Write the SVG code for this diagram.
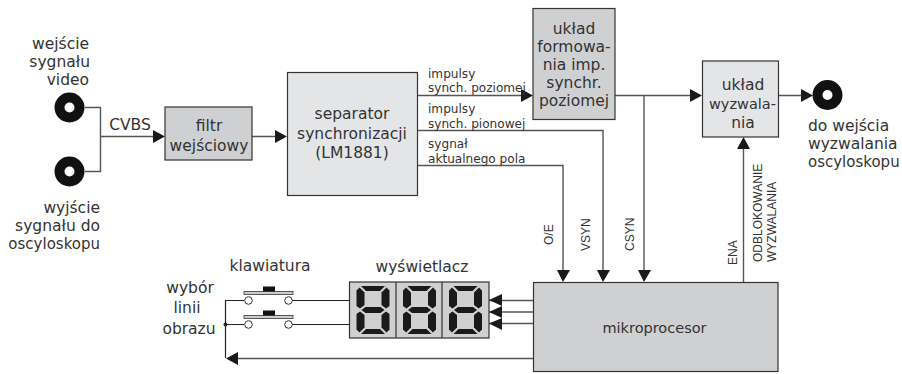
<svg xmlns="http://www.w3.org/2000/svg" width="902" height="374" viewBox="0 0 902 374">
<style>
text{font-family:"DejaVu Sans",Verdana,sans-serif;fill:#333;font-size:15.500px;text-anchor:middle}
.e{text-anchor:end}.t{text-anchor:start}
.m{font-size:15px}.n{font-size:14.500px}
.s{font-size:12.100px;text-anchor:start}
.v{font-family:"Liberation Sans",Arial,sans-serif;font-size:12px;text-anchor:start}
.b{stroke:#333;stroke-width:1.2}
.d{fill:#cfd0d2}.l{fill:#e4e5e6}
.w{fill:none;stroke:#555;stroke-width:1.4}
.k{fill:none;stroke:#222;stroke-width:1.2}
.seg{fill:#1a1a1a}
.jack{fill:#fff;stroke:#111;stroke-width:10}
.pin{fill:#fff;stroke:#333;stroke-width:1}
</style>
<defs>
<g id="digit">
<path class="seg" d="M5 0H29L24 5H10Z"/><path class="seg" d="M3.500 1.500L8.500 6.500V19L4 22.500L0.500 20V4.500Z"/><path class="seg" d="M30.500 1.500L25.500 6.500V19L30 22.500L33.500 20V4.500Z"/>
<path class="seg" d="M5.500 24L9.500 21H24.500L28.500 24L24.500 27H9.500Z"/>
<path class="seg" d="M4 25.500L8.500 29V41.500L3.500 46.500L0.500 43.500V28Z"/><path class="seg" d="M30 25.500L25.500 29V41.500L30.500 46.500L33.500 43.500V28Z"/>
<path class="seg" d="M5 48L10 43H24L29 48Z"/>
</g>
<g id="key"><rect x="-24.500" y="0" width="49" height="3" fill="#ccc" stroke="#333" stroke-width="0.800"/><rect x="-5.500" y="-5" width="12" height="5" fill="#111"/><circle class="pin" cx="-20" cy="9" r="3.800"/><circle class="pin" cx="20" cy="9" r="3.800"/></g>
</defs>
<g id="connectors">
<path class="w" d="M85 107.500H100.500V171.500H85M100.500 136.500H155M252 136.500H276M417 95.500H523M417 130.500H603V272M417 165.500H563V272M615 95.500H692M644 95.500V272M778 95.500H806M743.500 282V147"/>
<path class="w" d="M489 300.500H533M489 312H533M489 323.500H533M238 358.500H533"/>
<path class="k" d="M244 300.500H225.500V358M225.500 324.500H244M292 300.500H349M292 324.500H349"/>
<circle cx="225.500" cy="324.500" r="2" fill="#222"/>
<path fill="#1a1a1a" d="M165 136.500L153 130V143ZM287 136.500L275 130V143ZM533 95.500L521 89V102ZM702 95.500L690 89V102ZM813 95.500L801 89V102ZM743.500 137L737 149H750ZM563 282L557 270H570ZM603 282L597 270H610ZM644 282L638 270H651ZM489 300L502 294V306ZM489 312L502 306V318ZM489 323.500L502 318V330ZM226 358.500L238 352V365Z"/>
</g>
<g id="jack-in"><circle class="jack" cx="69.500" cy="107.500" r="10"/></g>
<g id="jack-out"><circle class="jack" cx="69.500" cy="171.500" r="10"/></g>
<g id="jack-trig"><circle class="jack" cx="827.500" cy="95" r="10"/></g>
<g id="labels-left">
<text class="e" x="89" y="49">wejście</text><text class="e" x="90" y="67">sygnału</text><text class="e" x="89" y="85">video</text>
<text class="e" x="100" y="213">wyjście</text><text class="e" x="100" y="231">sygnału do</text><text class="e m" x="100" y="249">oscyloskopu</text>
<text x="130" y="130">CVBS</text>
</g>
<g id="filtr"><rect class="b d" x="165" y="107" width="87" height="53"/><text x="209" y="131">filtr</text><text x="209" y="151">wejściowy</text></g>
<g id="separator"><rect class="b l" x="287.500" y="72.500" width="130" height="123"/><text x="352" y="119">separator</text><text x="352" y="139">synchronizacji</text><text x="352" y="158">(LM1881)</text></g>
<g id="formowanie"><rect class="b d" x="533" y="8.500" width="82" height="111"/><text x="574" y="34">układ</text><text x="574" y="52">formowa-</text><text x="574" y="70">nia imp.</text><text x="574" y="88">synchr.</text><text x="574" y="106">poziomej</text></g>
<g id="wyzwalanie"><rect class="b l" x="702.500" y="61" width="76" height="76"/><text x="743" y="90">układ</text><text class="n" x="742.500" y="109">wyzwala-</text><text x="743" y="128">nia</text></g>
<g id="signal-labels">
<text class="s" x="428" y="78">impulsy</text><text class="s" x="428" y="92">synch. poziomej</text>
<text class="s" x="428" y="113">impulsy</text><text class="s" x="428" y="128">synch. pionowej</text>
<text class="s" x="428" y="148">sygnał</text><text class="s" x="428" y="163">aktualnego pola</text>
<text class="v" transform="translate(553 245) rotate(-90)">O/E</text>
<text class="v" transform="translate(590 251) rotate(-90)">VSYN</text>
<text class="v" transform="translate(634 251) rotate(-90)">CSYN</text>
<text class="v" transform="translate(737 265) rotate(-90)">ENA</text>
<text class="v" transform="translate(762 262) rotate(-90)">ODBLOKOWANIE</text>
<text class="v" transform="translate(776 262) rotate(-90)">WYZWALANIA</text>
</g>
<g id="wyjscie-label"><text class="t" x="808" y="131">do wejścia</text><text class="t" x="808" y="149">wyzwalania</text><text class="t m" x="808" y="167">oscyloskopu</text></g>
<g id="klawiatura"><text x="270" y="271">klawiatura</text><text x="190" y="293">wybór</text><text x="187" y="313">linii</text><text x="189" y="334">obrazu</text>
<use href="#key" x="268.500" y="291.500"/><use href="#key" x="268.500" y="315.500"/></g>
<g id="wyswietlacz"><text x="422" y="272">wyświetlacz</text><rect class="b d" x="349.500" y="282" width="139.500" height="56"/><path class="b" d="M396 282V338M442 282V338"/>
<use href="#digit" x="356" y="286"/><use href="#digit" x="402.500" y="286"/><use href="#digit" x="448.500" y="286"/></g>
<g id="mikroprocesor"><rect class="b d" x="533.500" y="282.500" width="244.500" height="89"/><text class="n" x="654.500" y="333">mikroprocesor</text></g>
</svg>
